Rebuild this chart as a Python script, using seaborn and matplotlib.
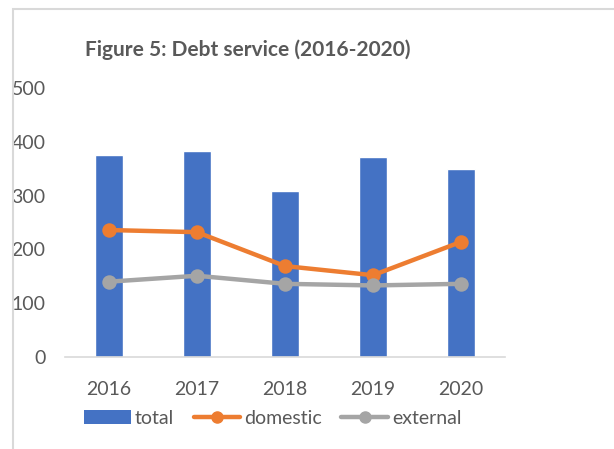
import matplotlib
matplotlib.use("Agg")
import matplotlib.pyplot as plt
import seaborn as sns
import pandas as pd
from matplotlib.lines import Line2D
from matplotlib.patches import Patch, Rectangle

years = ["2016", "2017", "2018", "2019", "2020"]
total = [375, 383, 309, 372, 349]
domestic = [236, 232, 169, 152, 214]
external = [140, 151, 136, 133, 136]

BLUE = "#4472C4"
ORANGE = "#ED7D31"
GRAY = "#A5A5A5"
TEXT = "#595959"

sns.set_theme(style="white")
plt.rcParams["font.family"] = ["Lato", "DejaVu Sans"]

df = pd.DataFrame({"year": years, "total": total,
                   "domestic": domestic, "external": external})

fig = plt.figure(figsize=(6.14, 4.49), dpi=100)
fig.patches.append(Rectangle((13 / 614, -0.1), 1.2, 1 - 9 / 449 + 0.1,
                             transform=fig.transFigure, fill=False,
                             edgecolor="#D9D9D9", linewidth=1.5))
ax = fig.add_axes([65 / 614, 1 - 357 / 449, 440 / 614, (357 - 88) / 449])

sns.barplot(data=df, x="year", y="total", color=BLUE, width=0.31,
            saturation=1, ax=ax)
sns.pointplot(data=df, x="year", y="domestic", color=ORANGE, ax=ax,
              markers="o", markersize=8, linewidth=3.2)
sns.pointplot(data=df, x="year", y="external", color=GRAY, ax=ax,
              markers="o", markersize=8, linewidth=3.2)

ax.set_xlim(-0.5, 4.5)
ax.set_ylim(0, 500)
ax.set_yticks([0, 100, 200, 300, 400, 500])
ax.set_xlabel("")
ax.set_ylabel("")
for s in ["top", "right", "left"]:
    ax.spines[s].set_visible(False)
ax.spines["bottom"].set_color("#D9D9D9")
ax.spines["bottom"].set_linewidth(1.2)
ax.tick_params(axis="both", length=0, labelsize=14, colors=TEXT)
ax.tick_params(axis="x", pad=17)
ax.tick_params(axis="y", pad=14)

fig.text(248 / 614, 1 - 50 / 449, "Figure 5: Debt service (2016-2020)",
         ha="center", va="center", fontsize=15, fontweight="bold", color=TEXT)

handles = [
    Patch(facecolor=BLUE, edgecolor="none"),
    Line2D([], [], color=ORANGE, lw=3.2, marker="o", markersize=8),
    Line2D([], [], color=GRAY, lw=3.2, marker="o", markersize=8),
]
leg = fig.legend(handles, ["total", "domestic", "external"], ncol=3,
                 loc="center", bbox_to_anchor=(273 / 614, 1 - 418 / 449),
                 frameon=False, fontsize=14, handlelength=2.4,
                 handletextpad=0.2, columnspacing=1.0, labelcolor=TEXT)

fig.savefig("out.png", dpi=100)
